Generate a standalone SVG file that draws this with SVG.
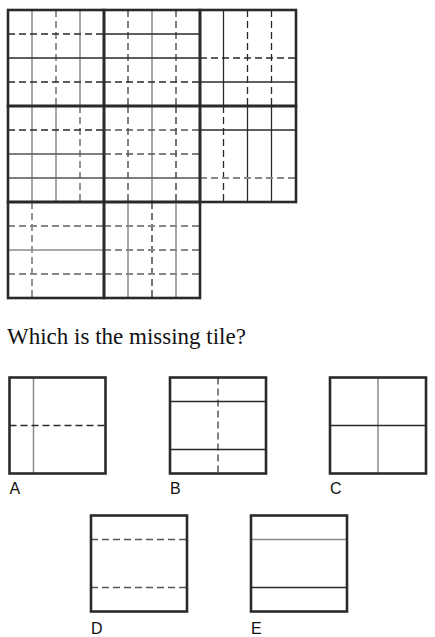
<svg xmlns="http://www.w3.org/2000/svg" width="435" height="637" viewBox="0 0 435 637">
<style>
.bg{fill:#fff}
.frame{fill:none;stroke:#2a2a2a;stroke-width:2.6}
.sd{stroke:#2a2a2a;stroke-width:1.3;fill:none}
.sg{stroke:#8a8a8a;stroke-width:1.5;fill:none}
.sm{stroke:#555;stroke-width:1.4;fill:none}
.dd{stroke:#2a2a2a;stroke-width:1.3;stroke-dasharray:7 4;fill:none}
.dg{stroke:#888;stroke-width:1.8;stroke-dasharray:7 4;fill:none}
.dm{stroke:#555;stroke-width:1.5;stroke-dasharray:7 4;fill:none}
.q{font-family:"Liberation Serif","Times New Roman",serif;font-size:23px;fill:#111}
.lbl{font-family:"Liberation Sans",Arial,sans-serif;font-size:16px;fill:#111}
</style>
<rect class="bg" x="0" y="0" width="435" height="637"/>

<g id="tile-1-1">
<path class="sg" d="M32 10V106M80 10V106"/>
<path class="dg" d="M56 10V106"/>
<path class="dd" d="M8 34H104M8 82H104"/>
<path class="sd" d="M8 58H104"/>
<rect class="frame" x="8" y="10" width="96" height="96"/>
</g>
<g id="tile-1-2">
<path class="dm" d="M128 10V106M176 10V106"/>
<path class="sg" d="M152 10V106"/>
<path class="sd" d="M104 34H200M104 58H200"/>
<path class="dd" d="M104 82H200"/>
<rect class="frame" x="104" y="10" width="96" height="96"/>
</g>
<g id="tile-1-3">
<path class="sd" d="M223.5 10V106"/>
<path class="dd" d="M247.5 10V106M271.5 10V106"/>
<path class="dd" d="M200 58H296"/>
<path class="sd" d="M200 82H296"/>
<rect class="frame" x="200" y="10" width="96" height="96"/>
</g>

<g id="tile-2-1">
<path class="sg" d="M32 106V202M56 106V202"/>
<path class="dg" d="M80 106V202"/>
<path class="dd" d="M8 130H104"/>
<path class="sm" d="M8 154H104M8 178H104"/>
<rect class="frame" x="8" y="106" width="96" height="96"/>
</g>
<g id="tile-2-2">
<path class="dm" d="M128 106V202"/>
<path class="sg" d="M152 106V202"/>
<path class="dd" d="M176 106V202"/>
<path class="dm" d="M104 130H200M104 154H200"/>
<path class="sm" d="M104 178H200"/>
<rect class="frame" x="104" y="106" width="96" height="96"/>
</g>
<g id="tile-2-3">
<path class="dd" d="M223.5 106V202"/>
<path class="sd" d="M247.5 106V202M271.5 106V202"/>
<path class="sd" d="M200 130H296"/>
<path class="dg" d="M200 178H296"/>
<rect class="frame" x="200" y="106" width="96" height="96"/>
</g>

<g id="tile-3-1">
<path class="dg" d="M32 202V298"/>
<path class="dg" d="M8 226H104M8 274H104"/>
<path class="sg" d="M8 250H104"/>
<rect class="frame" x="8" y="202" width="96" height="96"/>
</g>
<g id="tile-3-2">
<path class="sg" d="M128 202V298M176 202V298"/>
<path class="dd" d="M152 202V298"/>
<path class="dg" d="M104 226H200M104 250H200M104 274H200"/>
<rect class="frame" x="104" y="202" width="96" height="96"/>
</g>

<text class="q" x="7" y="344">Which is the missing tile?</text>

<g id="option-a">
<path class="sg" d="M33.5 377.5V473.5"/>
<path class="dd" d="M9.5 425.5H105.5"/>
<rect class="frame" x="9.5" y="377.5" width="96" height="96"/>
<text class="lbl" x="9.5" y="494">A</text>
</g>
<g id="option-b">
<path class="dm" d="M218 377.5V473.5"/>
<path class="sd" d="M170 401.5H266M170 449.5H266"/>
<rect class="frame" x="170" y="377.5" width="96" height="96"/>
<text class="lbl" x="170" y="494">B</text>
</g>
<g id="option-c">
<path class="sg" d="M378 377.5V473.5"/>
<path class="sd" d="M330 425.5H426"/>
<rect class="frame" x="330" y="377.5" width="96" height="96"/>
<text class="lbl" x="330" y="494">C</text>
</g>
<g id="option-d">
<path class="dm" d="M91 539.5H187M91 587.5H187"/>
<rect class="frame" x="91" y="515.5" width="96" height="96"/>
<text class="lbl" x="91" y="634">D</text>
</g>
<g id="option-e">
<path class="sg" d="M251 539.5H347"/>
<path class="sd" d="M251 587.5H347"/>
<rect class="frame" x="251" y="515.5" width="96" height="96"/>
<text class="lbl" x="251" y="634">E</text>
</g>
</svg>
